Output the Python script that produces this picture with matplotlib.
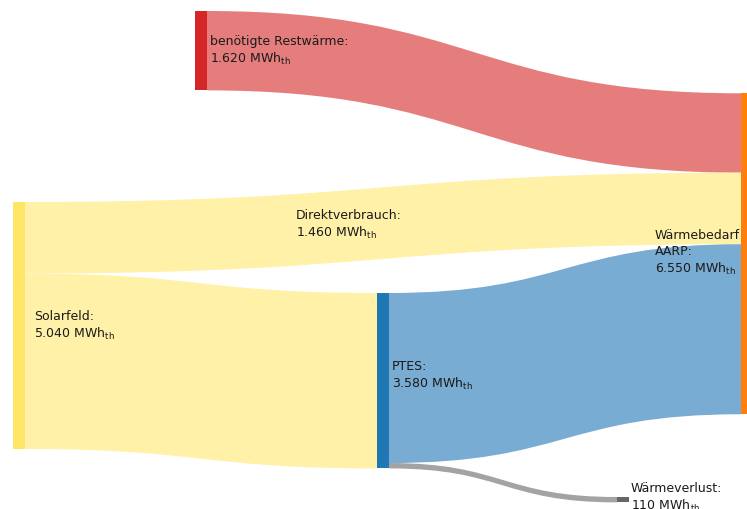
import matplotlib
matplotlib.use("Agg")
import matplotlib.pyplot as plt
from matplotlib.path import Path
from matplotlib.patches import PathPatch, Rectangle

plt.rcParams['mathtext.fontset'] = 'dejavusans'

# ---- data ----
node_names = ["benötigte Restwärme", "Solarfeld", "PTES", "Wärmebedarf\nAARP", "Wärmeverlust"]
node_values = [1620, 5040, 3580, 6550, 110]
link_source = [0, 1, 1, 2, 2]
link_target = [3, 3, 2, 3, 4]
link_values = [1620, 1460, 3580, 3470, 110]
link_labels = [None, "Direktverbrauch", None, None, None]

# ---- layout / style ----
scale = 0.049          # px per MWh
node_w = 12
node_x = [195, 13, 377, 741, 617]
node_top = [11, 202, 293, 93.3, 497]
node_colors = ["#d62728", "#ffe566", "#1f77b4", "#ff7f0e", "#666666"]
link_colors = ["#e67d7d", "#fff1a8", "#fff1a8", "#79acd2", "#a3a3a3"]

W, H = 747, 509
fig = plt.figure(figsize=(W / 100, H / 100), dpi=100)
ax = fig.add_axes([0, 0, 1, 1])
ax.set_xlim(0, W)
ax.set_ylim(H, 0)
ax.axis("off")

out_off = [0.0] * len(node_values)
in_off = [0.0] * len(node_values)

def link_path(x0, y0a, y0b, x1, y1a, y1b):
    xm = (x0 + x1) / 2
    verts = [(x0, y0a), (xm, y0a), (xm, y1a), (x1, y1a),
             (x1, y1b), (xm, y1b), (xm, y0b), (x0, y0b), (x0, y0a)]
    codes = [Path.MOVETO, Path.CURVE4, Path.CURVE4, Path.CURVE4,
             Path.LINETO, Path.CURVE4, Path.CURVE4, Path.CURVE4, Path.CLOSEPOLY]
    return Path(verts, codes)

for s, t, v, c in zip(link_source, link_target, link_values, link_colors):
    h = v * scale
    x0 = node_x[s] + node_w
    x1 = node_x[t]
    y0 = node_top[s] + out_off[s]
    y1 = node_top[t] + in_off[t]
    out_off[s] += h
    in_off[t] += h
    ax.add_patch(PathPatch(link_path(x0, y0, y0 + h, x1, y1, y1 + h),
                           facecolor=c, edgecolor="none", zorder=1))

for i, v in enumerate(node_values):
    ax.add_patch(Rectangle((node_x[i], node_top[i]), node_w, v * scale,
                           facecolor=node_colors[i], edgecolor="none", zorder=2))

def fmt(v):
    return f"{v:,}".replace(",", ".")

fs = 9
tc = "#1a1a1a"
def label(x, y, name, v):
    ax.text(x, y, f"{name}:\n{fmt(v)} MWh$_{{\\mathrm{{th}}}}$", fontsize=fs,
            color=tc, ha="left", va="center", linespacing=1.25, zorder=3)

label(210, 51, node_names[0], node_values[0])
label(34, 326, node_names[1], node_values[1])
label(392, 376, node_names[2], node_values[2])
label(655, 253, node_names[3], node_values[3])
label(631, 498, node_names[4], node_values[4])
label(296, 225, link_labels[1], link_values[1])

fig.savefig("out.png", dpi=100)
